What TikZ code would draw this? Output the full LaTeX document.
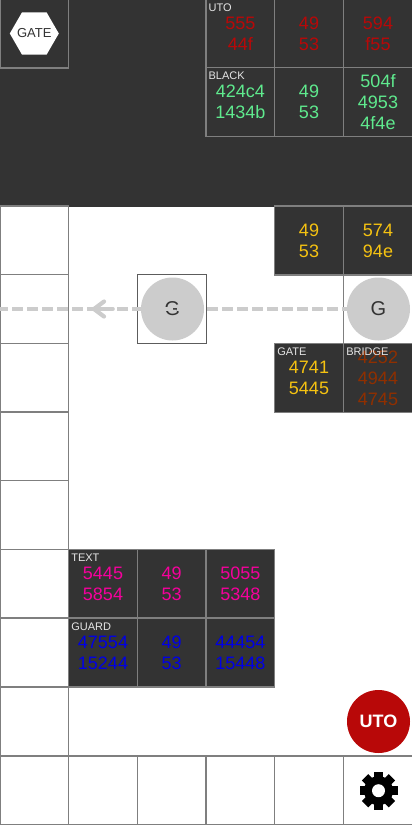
\documentclass[tikz,border=0pt]{standalone}
\usepackage{fontspec}
\setmainfont{Liberation Sans}
\usetikzlibrary{arrows.meta,positioning,shapes.geometric}
\definecolor{panelgray}{HTML}{333333}
\definecolor{gridgray}{HTML}{7F7F7F}
\definecolor{lanegray}{HTML}{CCCCCC}
\definecolor{utored}{HTML}{B80808}
\definecolor{blackgreen}{HTML}{5FEA8E}
\definecolor{gateyellow}{HTML}{F5C211}
\definecolor{bridgebrown}{HTML}{8F2F00}
\definecolor{textpink}{HTML}{F5009C}
\definecolor{guardblue}{HTML}{0000E6}
\tikzset{
	tile/.style={draw=gridgray,line width=1.4pt,fill=white,minimum width=68.7pt,minimum height=68.7pt,inner sep=0pt,outer sep=0pt},
	darktile/.style={tile,fill=panelgray,align=center,font=\fontsize{18}{21}\selectfont},
	tag/.style={anchor=north west,inner sep=0pt,text=white!90!black,font=\fontsize{11}{12}\selectfont},
	token/.style={circle,fill=lanegray,text=panelgray,minimum size=63pt,inner sep=0pt,font=\fontsize{20}{22}\selectfont},
	lane/.style={draw=lanegray,line width=3.6pt}
}
\begin{document}
\begin{tikzpicture}[x=1pt,y=-1pt]
	\useasboundingbox (0,0) rectangle (412,825);
	\fill[panelgray] (0,0) rectangle (412,206.5);
	\node[tile,fill=panelgray] (gatetile) at (34.3,33.5) {};
	\node[regular polygon,regular polygon sides=6,fill=white,minimum size=49pt,inner sep=-8pt,text=panelgray,font=\fontsize{13}{14}\selectfont] (gatehex) at (gatetile) {GATE};
	% left column and bottom row
	\foreach \n/\y in {1/240.5,2/309,3/378,4/446.5,5/515,6/584,7/652.5,8/721.5,9/790.5}
		\node[tile] (left\n) at (34.3,\y) {};
	\foreach \n/\x in {1/103,2/171.7,3/240.3,4/309,5/378}
		\node[tile] (bottom\n) at (\x,790.5) {};
	\node[tile,line width=0.8pt,draw=panelgray!80!white] (leftcell) at (171.7,309) {};
	\node[tile,line width=0.8pt] (rightcell) at (378,309) {};
	% coloured tiles
	\foreach \name/\x/\y/\tone/\txt in {
		utoa/240.3/33.5/utored/{555\\44f},utob/309/33.5/utored/{49\\53},utoc/378/33.5/utored/{594\\f55},
		blacka/240.3/102/blackgreen/{424c4\\1434b},blackb/309/102/blackgreen/{49\\53},blackc/378/102/blackgreen/{504f\\4953\\4f4e},
		yellowa/309/240.5/gateyellow/{49\\53},yellowb/378/240.5/gateyellow/{574\\94e},
		gatea/309/378/gateyellow/{4741\\5445},bridgea/378/378/bridgebrown/{4252\\4944\\4745},
		texta/103/584/textpink/{5445\\5854},textb/171.7/584/textpink/{\raisebox{-1.5pt}{49}\\\raisebox{-1.5pt}{53}},textc/240.3/584/textpink/{\raisebox{-1.5pt}{5055}\\\raisebox{-1.5pt}{5348}},
		guarda/103/652.5/guardblue/{47554\\15244},guardb/171.7/652.5/guardblue/{49\\53},guardc/240.3/652.5/guardblue/{44454\\15448}}
		\node[darktile,text=\tone] (\name) at (\x,\y) {\txt};
	\foreach \name/\txt in {utoa/UTO,blacka/BLACK,gatea/GATE,bridgea/BRIDGE,texta/TEXT,guarda/GUARD}
		\node[tag] (\name tag) at ([xshift=2.5pt,yshift=-4pt]\name.north west) {\txt};
	% lane with its arrow
	\node[token] (lefttoken) at (172.5,309) {G};
	\coordinate (laneend) at (0,309);
	\coordinate (arrowtail) at (113,309);
	\coordinate (arrowtip) at (94,309);
	\node[token] (righttoken) at (378.5,309) {G};
	\draw[lane,dash pattern=on 11pt off 4pt,dash phase=6pt] (righttoken) -- (laneend);
	\draw[lane,line cap=round] (arrowtail) -- (arrowtip);
	\draw[lane,line width=4.2pt,line cap=round,line join=round] ([xshift=10pt,yshift=7.5pt]arrowtip) -- (arrowtip) -- ([xshift=10pt,yshift=-7.5pt]arrowtip);
	% round button and gear
	\node[circle,fill=utored,text=white,minimum size=63pt,inner sep=0pt,font=\bfseries\fontsize{18}{20}\selectfont] (utobutton) at (378.5,721.5) {UTO};
	\coordinate (gear) at (378.5,790.7);
	\fill[black] (gear) circle (14.5);
	\foreach \a in {0,45,...,315}
		\fill[black,rotate around={\a:(gear)}] ([xshift=-4.5pt,yshift=-19pt]gear) rectangle ([xshift=4.5pt,yshift=-10pt]gear);
	\fill[white] (gear) circle (6.5);
\end{tikzpicture}
\end{document}
